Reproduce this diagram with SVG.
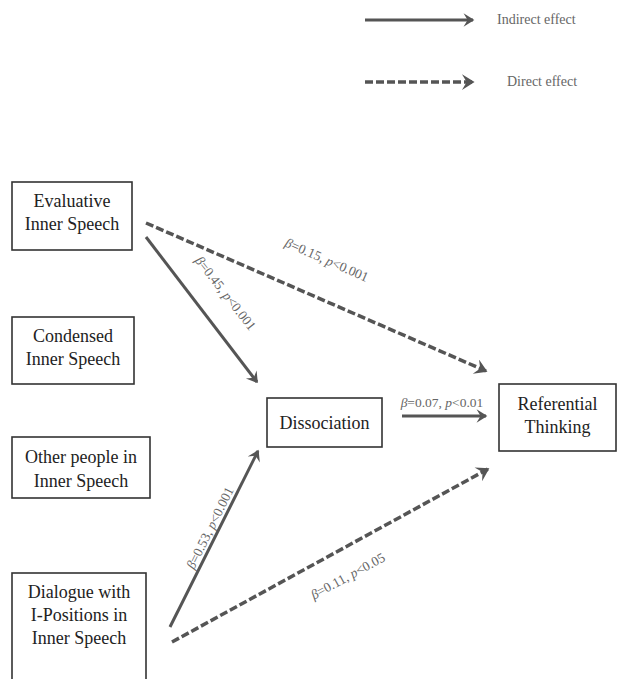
<svg xmlns="http://www.w3.org/2000/svg" width="618" height="679" viewBox="0 0 618 679">
<style>
.box{fill:#fff;stroke:#333;stroke-width:1.6}
.nt{font-family:"Liberation Serif",serif;font-size:18px;fill:#222;text-anchor:middle}
.lbl{font-family:"Liberation Serif",serif;font-size:13.5px;fill:#666;text-anchor:middle}
.i{font-style:italic}
.leg{font-family:"Liberation Serif",serif;font-size:14px;fill:#666}
.solid{fill:none;stroke:#555;stroke-width:3;marker-end:url(#ah)}
.dash{fill:none;stroke:#555;stroke-width:3.5;stroke-dasharray:8,3;marker-end:url(#ah)}
</style>
<defs>
<marker id="ah" viewBox="0 0 10 10" refX="8" refY="5" markerWidth="4.5" markerHeight="4.5" orient="auto" markerUnits="strokeWidth">
<path d="M1,0 L9,5 L1,10 L4,5 Z" fill="#555"/>
</marker>
</defs>
<rect width="618" height="679" fill="#fff"/>
<g id="legend">
<line class="solid" x1="365" y1="20" x2="473" y2="20"/>
<text class="leg" x="497" y="24">Indirect effect</text>
<line class="dash" x1="365" y1="82" x2="473" y2="82"/>
<text class="leg" x="507" y="86">Direct effect</text>
</g>
<g id="connectors">
<line class="dash" x1="146" y1="223" x2="486" y2="371"/>
<line class="solid" x1="146" y1="237" x2="257" y2="382"/>
<line class="solid" x1="402" y1="416" x2="486" y2="416"/>
<line class="solid" x1="170" y1="627" x2="258" y2="451"/>
<line class="dash" x1="172" y1="642" x2="488" y2="469"/>
<text class="lbl" transform="translate(325,264) rotate(23.7)"><tspan class="i">β</tspan>=0.15, <tspan class="i">p</tspan>&lt;0.001</text>
<text class="lbl" transform="translate(222,296) rotate(52)"><tspan class="i">β</tspan>=0.45, <tspan class="i">p</tspan>&lt;0.001</text>
<text class="lbl" x="442" y="407"><tspan class="i">β</tspan>=0.07, <tspan class="i">p</tspan>&lt;0.01</text>
<text class="lbl" transform="translate(214,530) rotate(-63.6)"><tspan class="i">β</tspan>=0.53, <tspan class="i">p</tspan>&lt;0.001</text>
<text class="lbl" transform="translate(350,580) rotate(-28.6)"><tspan class="i">β</tspan>=0.11, <tspan class="i">p</tspan>&lt;0.05</text>
</g>
<g id="n-evaluative">
<rect class="box" x="12" y="182" width="120" height="68"/>
<text class="nt" x="72" y="207">Evaluative</text>
<text class="nt" x="72" y="230">Inner Speech</text>
</g>
<g id="n-condensed">
<rect class="box" x="12" y="317" width="122" height="67"/>
<text class="nt" x="73" y="342">Condensed</text>
<text class="nt" x="73" y="365">Inner Speech</text>
</g>
<g id="n-other">
<rect class="box" x="12" y="437" width="138" height="61"/>
<text class="nt" x="81" y="463">Other people in</text>
<text class="nt" x="81" y="487">Inner Speech</text>
</g>
<g id="n-dialogue">
<rect class="box" x="12" y="573" width="134" height="120"/>
<text class="nt" x="79" y="598">Dialogue with</text>
<text class="nt" x="79" y="621">I-Positions in</text>
<text class="nt" x="79" y="644">Inner Speech</text>
</g>
<g id="n-dissociation">
<rect class="box" x="267" y="398" width="115" height="49"/>
<text class="nt" x="324.500" y="429">Dissociation</text>
</g>
<g id="n-referential">
<rect class="box" x="499" y="384" width="117" height="67"/>
<text class="nt" x="557.500" y="410">Referential</text>
<text class="nt" x="557.500" y="433">Thinking</text>
</g>
</svg>
